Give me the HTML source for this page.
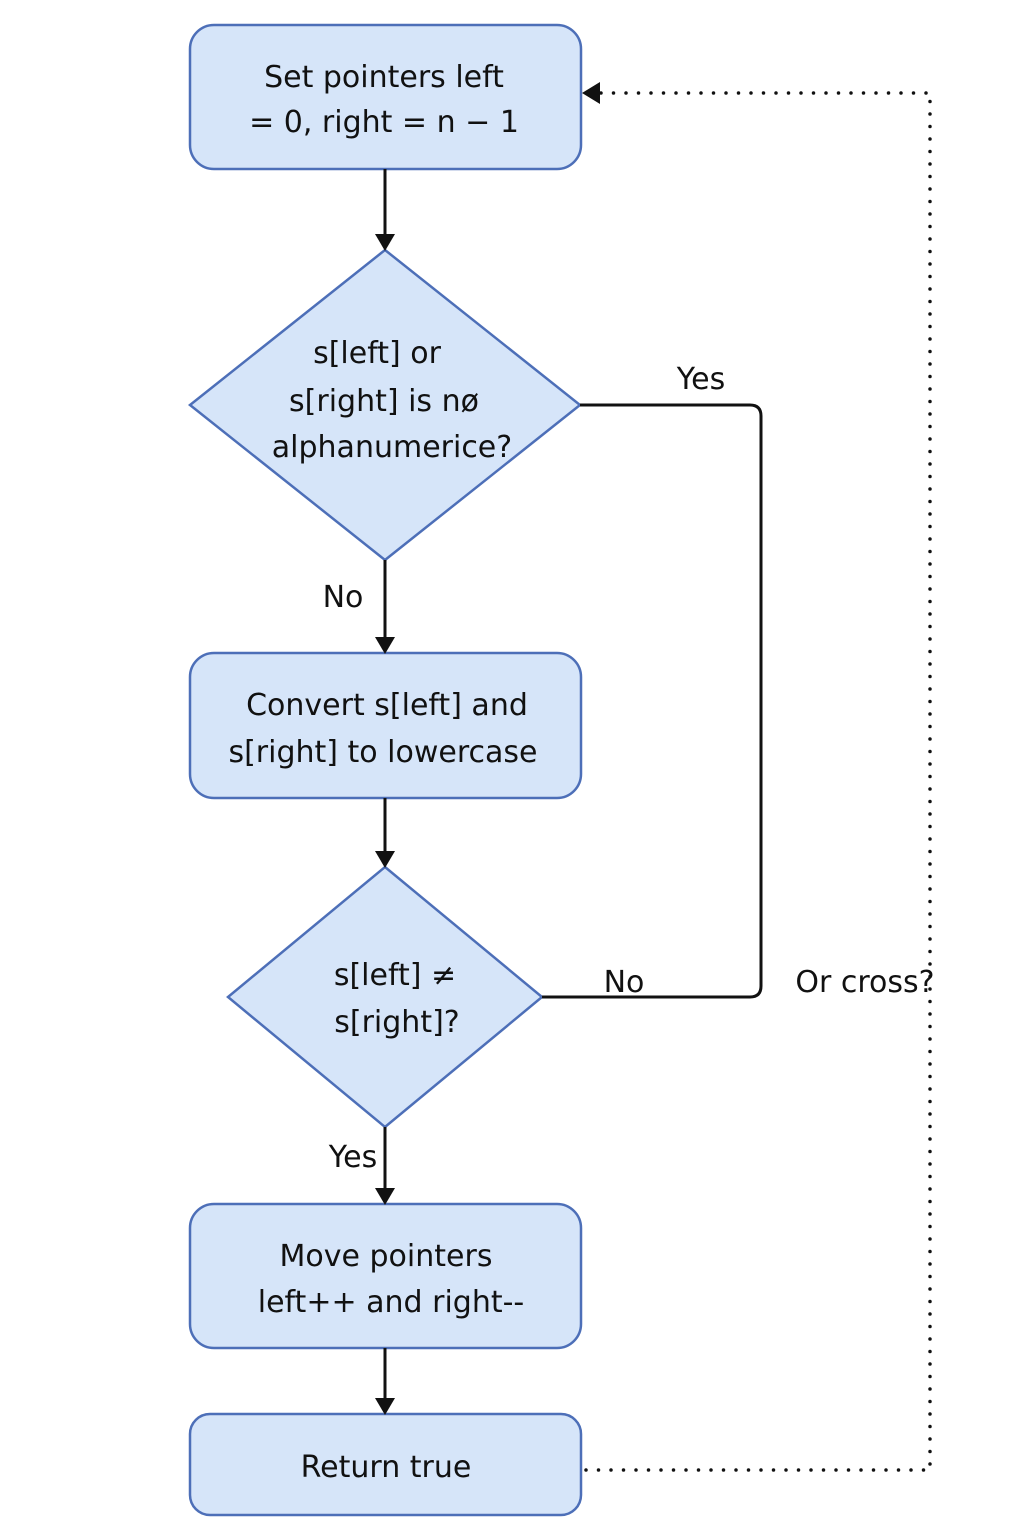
<!DOCTYPE html>
<html><head><style>
html,body{margin:0;padding:0;background:#fff;width:1024px;height:1536px;overflow:hidden}
svg text{font-family:"DejaVu Sans","Liberation Sans",sans-serif;font-size:30px;fill:#111;text-anchor:middle}
</style></head><body>
<svg width="1024" height="1536" viewBox="0 0 1024 1536" xmlns="http://www.w3.org/2000/svg">
<g fill="#d6e5f9" stroke="#4d6fb8" stroke-width="2.5">
<rect x="190" y="25" width="391" height="144" rx="24"/>
<polygon points="385,250 580,405 385,560 190,405"/>
<rect x="190" y="653" width="391" height="145" rx="24"/>
<polygon points="385,867 542,997 385,1127 228,997"/>
<rect x="190" y="1204" width="391" height="144" rx="24"/>
<rect x="190" y="1414" width="391" height="101" rx="20"/>
</g>
<g stroke="#111" stroke-width="3" fill="none">
<line x1="385" y1="169" x2="385" y2="236"/>
<line x1="385" y1="560" x2="385" y2="639"/>
<line x1="385" y1="798" x2="385" y2="853"/>
<line x1="385" y1="1127" x2="385" y2="1190"/>
<line x1="385" y1="1348" x2="385" y2="1400"/>
<path d="M580,405 H750 Q761,405 761,416 V986 Q761,997 750,997 H542"/>
<path d="M586,1470 H930 V93 H598" stroke-dasharray="0,12.5" stroke-width="3.5" stroke-linecap="round"/>
</g>
<g fill="#111">
<polygon points="375,234 395,234 385,251"/>
<polygon points="375,637 395,637 385,654"/>
<polygon points="375,851 395,851 385,868"/>
<polygon points="375,1188 395,1188 385,1205"/>
<polygon points="375,1398 395,1398 385,1415"/>
<polygon points="600,82 600,104 582,93"/>
</g>
<text x="384" y="87">Set pointers left</text>
<text x="384" y="132">= 0, right = n − 1</text>
<text x="377" y="363">s[left] or</text>
<text x="384" y="411">s[right] is nø</text>
<text x="392" y="457">alphanumerice?</text>
<text x="387" y="715">Convert s[left] and</text>
<text x="383" y="762">s[right] to lowercase</text>
<text x="395" y="985">s[left] ≠</text>
<text x="397" y="1032">s[right]?</text>
<text x="386" y="1266">Move pointers</text>
<text x="391" y="1312">left++ and right--</text>
<text x="386" y="1477">Return true</text>
<text x="701" y="389">Yes</text>
<text x="343" y="607">No</text>
<text x="624" y="992">No</text>
<text x="865" y="992">Or cross?</text>
<text x="353" y="1167">Yes</text>
</svg>
</body></html>
